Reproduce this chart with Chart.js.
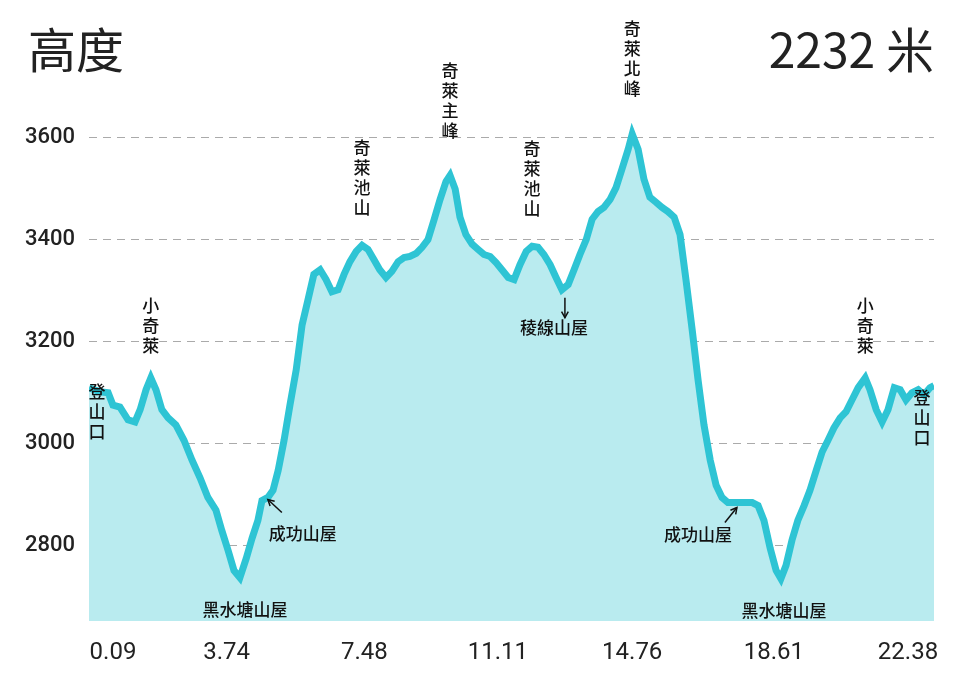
<!DOCTYPE html>
<html><head><meta charset="utf-8">
<script src="https://cdn.jsdelivr.net/npm/chart.js@4"></script>
<style>html,body{margin:0;background:#fff}#w{position:relative;width:962px;height:686px}
.t{position:absolute;top:12px;font:48px "Noto Sans CJK TC",Roboto,sans-serif;color:#222}
</style></head><body><div id="w">
<div class="t" style="left:28px">高度</div><div class="t" style="right:28px">2232 米</div>
<canvas id="c" width="962" height="686"></canvas></div>
<script>
const km=[0,0.3,0.52,0.65,0.84,1.06,1.25,1.39,1.55,1.68,1.82,1.98,2.15,2.36,2.58,2.8,3.02,3.23,3.45,3.61,3.78,3.94,4.1,4.27,4.43,4.59,4.7,4.86,5.0,5.14,5.3,5.46,5.63,5.79,5.95,6.11,6.28,6.44,6.6,6.77,6.93,7.09,7.26,7.42,7.58,7.74,7.9,8.07,8.23,8.4,8.56,8.72,8.89,9.05,9.21,9.38,9.54,9.7,9.81,9.95,10.08,10.24,10.41,10.57,10.73,10.9,11.06,11.22,11.39,11.55,11.71,11.88,12.04,12.2,12.36,12.53,12.69,12.85,13.02,13.18,13.34,13.51,13.67,13.83,13.99,14.16,14.32,14.48,14.65,14.76,14.92,15.08,15.24,15.41,15.57,15.73,15.9,16.06,16.22,16.39,16.55,16.71,16.88,17.04,17.2,17.36,17.69,18.02,18.18,18.34,18.51,18.67,18.8,18.94,19.1,19.26,19.43,19.59,19.76,19.92,20.08,20.24,20.41,20.57,20.73,20.9,21.09,21.22,21.39,21.55,21.71,21.88,22.04,22.2,22.36,22.53,22.69,22.85,22.96];
const elev=[3109,3101,3099,3075,3071,3046,3042,3066,3105,3128,3105,3066,3050,3036,3006,2967,2932,2894,2869,2829,2790,2751,2737,2774,2814,2849,2888,2894,2908,2947,3006,3075,3144,3232,3281,3331,3340,3321,3297,3301,3331,3356,3376,3388,3380,3360,3340,3325,3337,3356,3364,3366,3372,3384,3399,3439,3478,3513,3525,3498,3443,3409,3390,3380,3370,3366,3354,3340,3325,3321,3350,3376,3386,3384,3370,3350,3325,3301,3311,3340,3370,3399,3439,3454,3462,3478,3501,3537,3576,3606,3576,3517,3482,3472,3462,3454,3443,3409,3321,3222,3124,3036,2967,2918,2894,2884,2884,2884,2878,2849,2794,2751,2735,2761,2810,2849,2878,2908,2947,2983,3006,3030,3050,3062,3085,3109,3128,3105,3066,3042,3066,3109,3105,3085,3099,3105,3095,3109,3113];
const xTicks=[0.09,3.74,7.48,11.11,14.76,18.61,22.38];
const yTicks=[2800,3000,3200,3400,3600];
// [text, km, elevation, vertical?, dx, dy]
const notes=[["登山口",0,3109,true,8,24],["小奇萊",1.68,3128,true,0,-52],["黑水塘山屋",4.1,2737,false,5,32],
["成功山屋",4.86,2894,false,35,36],["奇萊池山",7.42,3388,true,0,-68],["奇萊主峰",9.81,3525,true,0,-75],
["奇萊池山",12.04,3386,true,0,-68],["稜線山屋",12.85,3301,false,-8,38],["奇萊北峰",14.76,3606,true,0,-75],
["成功山屋",17.36,2884,false,-30,32],["黑水塘山屋",18.8,2735,false,3,32],["小奇萊",21.09,3128,true,0,-52],["登山口",22.96,3113,true,-12,32]];
const arrows=[[4.86,2894,14,15,0,2],[12.85,3301,3,8,3,28],[17.36,2884,-3,20,9,5]]; // km,elev,start dx,dy,end dx,dy
const deco={id:'deco',afterDatasetsDraw(ch){const c=ch.ctx,x=ch.scales.x,y=ch.scales.y;c.save();
c.fillStyle='#111';c.font='500 17px "Noto Sans CJK TC",sans-serif';c.textAlign='center';c.textBaseline='middle';
notes.forEach(([t,k,e,v,dx,dy])=>{const px=x.getPixelForValue(k)+dx,py=y.getPixelForValue(e)+dy;
if(v){[...t].forEach((ch2,i)=>c.fillText(ch2,px,py+(i-(t.length-1)/2)*20));}else c.fillText(t,px,py);});
c.strokeStyle='#111';c.lineWidth=1.5;
arrows.forEach(([k,e,a1,b1,a2,b2])=>{const px=x.getPixelForValue(k),py=y.getPixelForValue(e);
const sx=px+a1,sy=py+b1,ex=px+a2,ey=py+b2;
c.beginPath();c.moveTo(sx,sy);c.lineTo(ex,ey);c.stroke();const a=Math.atan2(ey-sy,ex-sx);
c.beginPath();c.moveTo(ex-7*Math.cos(a-0.5),ey-7*Math.sin(a-0.5));c.lineTo(ex,ey);c.lineTo(ex-7*Math.cos(a+0.5),ey-7*Math.sin(a+0.5));c.stroke();});
c.font='24px Roboto,sans-serif';c.fillStyle='#222';c.textBaseline='middle';
xTicks.forEach(v=>{let px=x.getPixelForValue(v);px=Math.max(px,x.left+24);px=Math.min(px,x.right-26);c.fillText(v.toFixed(2),px,y.bottom+32);});
c.restore();}};
new Chart(document.getElementById('c'),{type:'line',
data:{datasets:[{data:km.map((k,i)=>({x:k,y:elev[i]})),borderColor:'#2ec4d4',borderWidth:7,backgroundColor:'#b9ebef',fill:'start',pointRadius:0,tension:0}]},
options:{responsive:false,animation:false,plugins:{legend:{display:false},tooltip:{enabled:false}},
layout:{padding:{left:0,right:28,top:86,bottom:57}},
scales:{x:{type:'linear',min:0,max:22.96,ticks:{display:false},grid:{display:false},border:{display:false}},
y:{min:2652,max:3700,afterBuildTicks:s=>{s.ticks=yTicks.map(v=>({value:v}))},
ticks:{color:'#222',font:{size:22,family:'Roboto',weight:'500'},padding:14,callback:v=>String(v)},
grid:{color:'#aaa',drawTicks:false,lineWidth:1},border:{display:false,dash:[8,6]},afterFit:s=>{s.width=89}}}},
plugins:[deco]});
</script></body></html>
